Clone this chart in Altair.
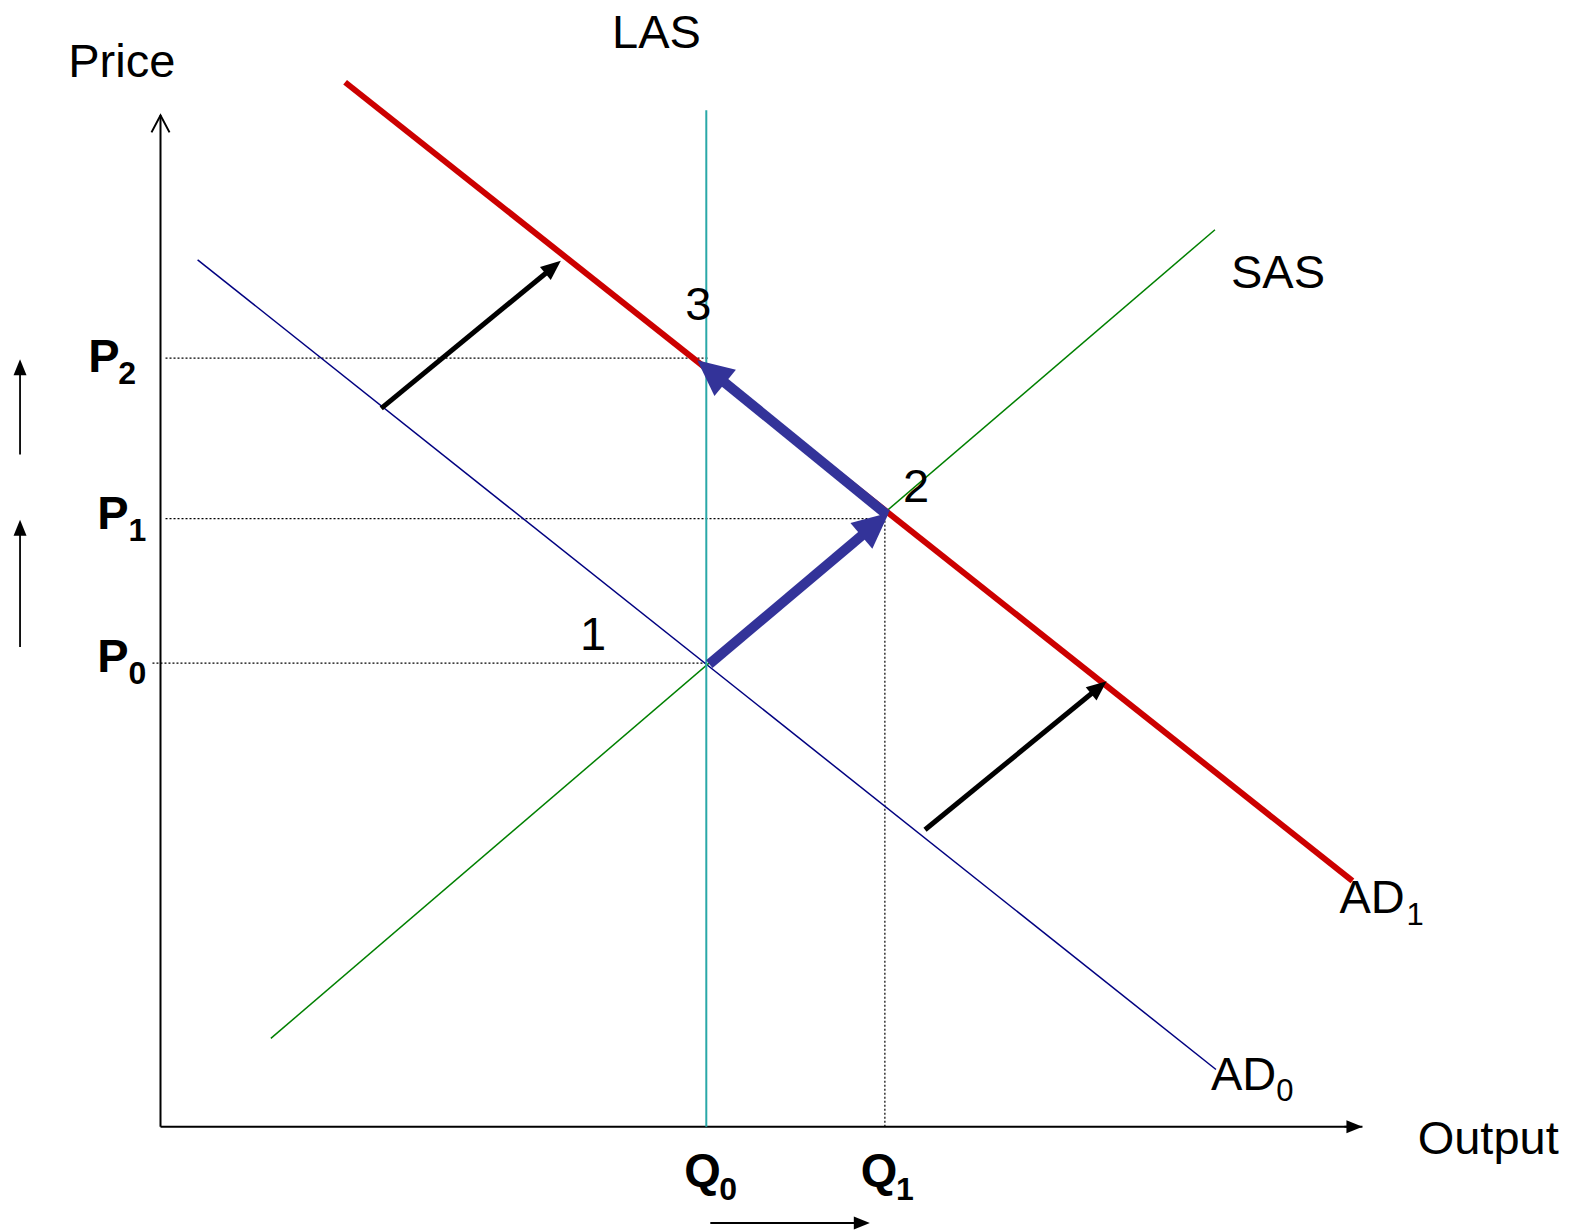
import math
import altair as alt
import pandas as pd

# ---- data (diagram units: origin at the axes corner, x = output, y = price) ----
# curves: name, x1, y1, x2, y2
curve_names = ["AD0", "SAS", "LAS", "AD1"]
curve_x1 = [37, 110, 544, 184]
curve_y1 = [864, 88, 0, 1041]
curve_x2 = [1052, 1051, 544, 1188]
curve_y2 = [57, 894, 1013, 245]
curve_colors = ["#000080", "#008000", "#2aa8a8", "#cc0000"]
curve_widths = [1.5, 1.5, 2, 6]

# dotted guide lines (price levels P2, P1, P0 and output level Q1)
guide_x1 = [5, 5, -8, 722]
guide_y1 = [766, 606, 462, 0]
guide_x2 = [547, 722, 544, 722]
guide_y2 = [766, 606, 462, 606]

# axes
axis_x1 = [0, 0]
axis_y1 = [0, 0]
axis_x2 = [0, 1198]
axis_y2 = [1008, 0]

# shift arrows (black), movement arrows (blue), small indicator arrows
shift_start_x = [220, 762]
shift_start_y = [716, 296]
shift_tip_x = [399, 943]
shift_tip_y = [863, 444]

move_start_x = [547, 724]
move_start_y = [461, 610]
move_tip_x = [726, 535]
move_tip_y = [612, 764]

small_start_x = [-140, -140, 548, 1180]
small_start_y = [670, 478, -96, 0]
small_tip_x = [-140, -140, 707, 1198]
small_tip_y = [765, 605, -96, 0]

# labels
big_text = ["Price", "LAS", "Output", "SAS", "AD", "AD", "3", "2", "1"]
big_x = [-92, 450, 1253, 1067, 1175, 1047, 523, 740, 418]
big_y = [1046, 1075, -27, 836, 213, 37, 804, 623, 475]
big_sub_text = ["1", "0"]
big_sub_x = [1242, 1112]
big_sub_y = [201, 26]

bold_text = ["P", "P", "P", "Q", "Q"]
bold_x = [-72, -63, -63, 522, 698]
bold_y = [752, 596, 453, -59, -59]
bold_sub_text = ["2", "1", "0", "0", "1"]
bold_sub_x = [-42, -32, -32, 557, 733]
bold_sub_y = [740, 584, 441, -73, -73]

W = 1556
H = 1224
K = 1.0033  # pixels per diagram unit
X0 = -152.0
YTOP = 1115.0
XDOM = [X0, X0 + W / K]
YDOM = [YTOP - H / K, YTOP]

xs = alt.Scale(domain=XDOM, range=[0, W], nice=False, zero=False)
ys = alt.Scale(domain=YDOM, range=[H, 0], nice=False, zero=False)


def seg_layer(df, color, width, dash=None):
    kw = dict(strokeWidth=width, color=color)
    if dash:
        kw["strokeDash"] = dash
    return alt.Chart(df).mark_rule(**kw).encode(
        x=alt.X("x1:Q", scale=xs, axis=None),
        y=alt.Y("y1:Q", scale=ys, axis=None),
        x2="x2:Q",
        y2="y2:Q",
    )


def arrow_layers(sx, sy, tx, ty, color, width, h, w):
    rows_line = []
    rows_head = []
    for a, b, c, d in zip(sx, sy, tx, ty):
        dx, dy = c - a, d - b
        L = math.hypot(dx, dy)
        ux, uy = dx / L, dy / L
        back = 0.6 * h / K
        rows_line.append(dict(x1=a, y1=b, x2=c - ux * back, y2=d - uy * back))
        ang = (math.degrees(math.atan2(dx, dy)) + 360) % 360
        rows_head.append(dict(x=c, y=d, angle=ang))
    line = seg_layer(pd.DataFrame(rows_line), color, width)
    aa = w / h
    shape = f"M0,0L{aa:.3f},2L-{aa:.3f},2Z"
    head = alt.Chart(pd.DataFrame(rows_head)).mark_point(
        shape=shape, filled=True, color=color, opacity=1, size=h * h, strokeWidth=0
    ).encode(
        x=alt.X("x:Q", scale=xs, axis=None),
        y=alt.Y("y:Q", scale=ys, axis=None),
        angle=alt.Angle("angle:Q", scale=None),
    )
    return [line, head]


guides = pd.DataFrame(dict(x1=guide_x1, y1=guide_y1, x2=guide_x2, y2=guide_y2))
axes = pd.DataFrame(dict(x1=axis_x1, y1=axis_y1, x2=axis_x2, y2=axis_y2))

layers = []
layers.append(seg_layer(guides, "black", 1.2, dash=[2, 2]))
layers.append(seg_layer(axes, "black", 2))
for i, nm in enumerate(curve_names):
    df = pd.DataFrame(dict(x1=[curve_x1[i]], y1=[curve_y1[i]],
                           x2=[curve_x2[i]], y2=[curve_y2[i]]))
    layers.append(seg_layer(df, curve_colors[i], curve_widths[i]))

# open chevron at top of price axis
chev = alt.Chart(pd.DataFrame(dict(x=[0], y=[1008]))).mark_point(
    shape="M-0.53,1L0,0L0.53,1", filled=False, color="black", opacity=1,
    size=1156, strokeWidth=2
).encode(x=alt.X("x:Q", scale=xs, axis=None), y=alt.Y("y:Q", scale=ys, axis=None))
layers.append(chev)

layers += arrow_layers(shift_start_x, shift_start_y, shift_tip_x, shift_tip_y, "black", 5, 20, 17)
layers += arrow_layers(move_start_x, move_start_y, move_tip_x, move_tip_y, "#333399", 10, 36, 34)
layers += arrow_layers(small_start_x, small_start_y, small_tip_x, small_tip_y, "black", 1.8, 16, 13)


def text_layer(texts, tx, ty, size, weight):
    df = pd.DataFrame(dict(t=texts, x=tx, y=ty))
    return alt.Chart(df).mark_text(
        align="left", baseline="alphabetic", font="Liberation Sans",
        fontSize=size, fontWeight=weight, color="black"
    ).encode(
        x=alt.X("x:Q", scale=xs, axis=None),
        y=alt.Y("y:Q", scale=ys, axis=None),
        text="t:N",
    )


layers.append(text_layer(big_text, big_x, big_y, 47, "normal"))
layers.append(text_layer(big_sub_text, big_sub_x, big_sub_y, 31, "normal"))
layers.append(text_layer(bold_text, bold_x, bold_y, 47, "bold"))
layers.append(text_layer(bold_sub_text, bold_sub_x, bold_sub_y, 32, "bold"))

chart = alt.layer(*layers).properties(
    width=W, height=H, padding=0, autosize=alt.AutoSizeParams(type="none"),
    background="white"
).configure_view(stroke=None)

chart.save("out.html", embed_options={"renderer": "svg", "actions": False})
